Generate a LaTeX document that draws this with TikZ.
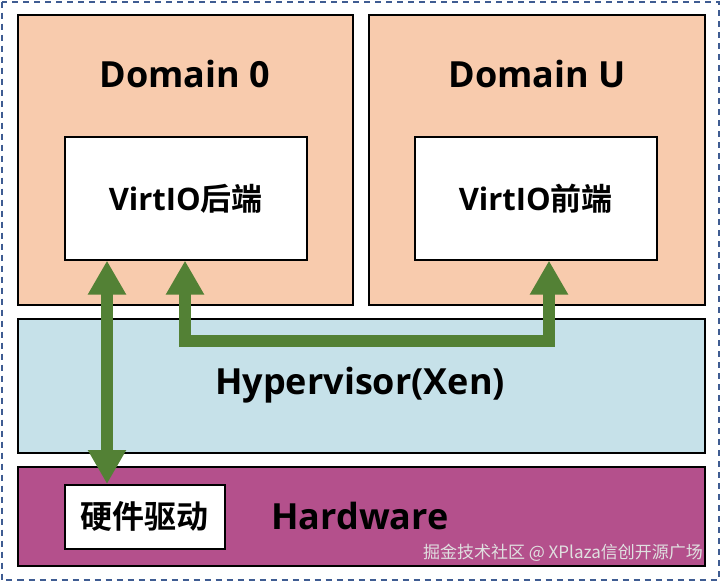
\documentclass[tikz,border=0pt]{standalone}
\usepackage{fontspec}
\setmainfont{Open Sans}[BoldFont={Open Sans Bold}]
\newfontfamily\cjk{Noto Sans CJK SC}[BoldFont={Noto Sans CJK SC Bold}]
\usetikzlibrary{arrows.meta}
\definecolor{peach}{HTML}{F8CBAD}
\definecolor{hvblue}{HTML}{C6E1E9}
\definecolor{hwpurple}{HTML}{B4508C}
\definecolor{agreen}{HTML}{538135}
\definecolor{dashblue}{HTML}{3F5C92}
\tikzset{
  layer/.style={draw=black,line width=2pt,inner sep=0pt,anchor=north west},
  inbox/.style={draw=black,line width=1.6pt,fill=white,inner sep=0pt,anchor=north west},
  ttl/.style={font=\bfseries\fontsize{36}{40}\selectfont},
  gdarrow/.style={draw=agreen,line width=12pt,line join=miter,
    {Triangle[width=36pt,length=34pt]}-{Triangle[width=36pt,length=34pt]}},
}
\begin{document}
\begin{tikzpicture}[x=1pt,y=-1pt]
\useasboundingbox (0,0) rectangle (720,582);
\fill[white] (0,0) rectangle (720,582);
\draw[dashblue,line width=2pt,dash pattern=on 6pt off 5pt] (1.5,1.5) rectangle (718.5,579.5);
% layers
\node[layer,fill=peach,minimum width=335pt,minimum height=290pt] (d0) at (17,14) {};
\node[layer,fill=peach,minimum width=336pt,minimum height=290pt] (du) at (368,14) {};
\node[layer,fill=hvblue,minimum width=687pt,minimum height=134pt] (hv) at (17,318) {};
\node[layer,fill=hwpurple,minimum width=687pt,minimum height=99pt] (hw) at (17,466) {};
% titles
\node[ttl] (d0t) at (185,74) {Domain 0};
\node[ttl] (dut) at (537,74) {Domain U};
\node[ttl] (hvt) at (360,385) {Hypervisor(Xen)};
\node[ttl] (hwt) at (360,516) {Hardware};
% inner boxes
\node[inbox,minimum width=242pt,minimum height=123pt] (be) at (64,136) {};
\node[inbox,minimum width=242pt,minimum height=123pt] (fe) at (414,136) {};
\node[inbox,minimum width=160pt,minimum height=64pt] (drv) at (64,484) {};
\node[font=\bfseries\fontsize{31}{36}\selectfont] (bet) at (be.center) {VirtIO{\cjk\bfseries 后端}};
\node[font=\bfseries\fontsize{31}{36}\selectfont] (fet) at (fe.center) {VirtIO{\cjk\bfseries 前端}};
\node[font=\cjk\bfseries\fontsize{32}{36}\selectfont] (drvt) at (drv.center) {硬件驱动};
% arrows
\coordinate (xa) at (107,0);
\coordinate (xb) at (185,341);
\coordinate (xc) at (549,341);
\draw[gdarrow] (be.south -| xa) -- (drv.north -| xa);
\draw[gdarrow] (xb |- be.south) -- (xb) -- (xc) -- (fe.south -| xc);
% watermark
\node[anchor=south east,text=white!88!black,font=\cjk\fontsize{17}{20}\selectfont,inner sep=0pt] (wm) at (703,562) {掘金技术社区 @ XPlaza信创开源广场};
\end{tikzpicture}
\end{document}
